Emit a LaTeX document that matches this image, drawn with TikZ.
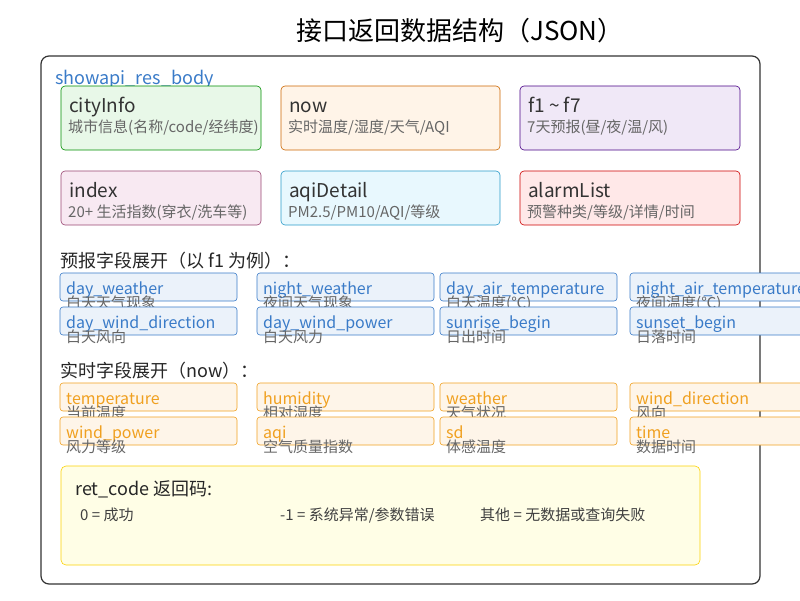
\documentclass[tikz,border=0pt]{standalone}
\usepackage{fontspec}
\setmainfont{Noto Sans CJK SC}
\definecolor{frame}{HTML}{333333}
\definecolor{sub}{HTML}{666666}
\definecolor{fblue}{HTML}{3A7BC8}
\definecolor{forange}{HTML}{F0A020}
\tikzset{
  card/.style={draw=#1!80!black, fill=#1!9, rounded corners=4pt, line width=0.6pt},
  fld/.style={draw=#1, fill=#1!10, rounded corners=3pt, line width=0.6pt},
  ttl/.style={anchor=base west, inner sep=0pt, font=\fontsize{19}{19}\selectfont, text=frame},
  dsc/.style={anchor=base west, inner sep=0pt, font=\fontsize{15}{15}\selectfont, text=sub},
  ftl/.style={anchor=base west, inner sep=0pt, font=\fontsize{16}{16}\selectfont, text=#1},
  fds/.style={anchor=base west, inner sep=0pt, font=\fontsize{15}{15}\selectfont, text=sub},
  sec/.style={anchor=base west, inner sep=0pt, font=\fontsize{18}{18}\selectfont, text=black!85}
}
\begin{document}
\begin{tikzpicture}[x=1pt,y=-1pt]
  \useasboundingbox (0,0) rectangle (800,600);
  \node[anchor=base, inner sep=0pt, font=\fontsize{26}{26}\selectfont] (title) at (460,40) {接口返回数据结构（JSON）};
  \draw[frame, line width=1.2pt, rounded corners=8pt] (41,56) rectangle (760,584);
  \node[anchor=base west, inner sep=0pt, text=fblue, font=\fontsize{18}{18}\selectfont] (body) at (55,84) {showapi\_res\_body};

% top-level cards
  \foreach \x/\y/\w/\col/\t/\d [count=\i] in {
      61/86/200/green!70!black/cityInfo/{城市信息(名称/code/经纬度)},
      281/86/219/orange/now/{实时温度/湿度/天气/AQI},
      520/86/220/violet!70!blue/{f1 \textasciitilde{} f7}/{7天预报(昼/夜/温/风)},
      61/171/200/magenta!70!black/index/{20+ 生活指数(穿衣/洗车等)},
      281/171/219/cyan/aqiDetail/{PM2.5/PM10/AQI/等级},
      520/171/220/red/alarmList/{预警种类/等级/详情/时间}} {
    \draw[card=\col] (\x,\y) rectangle ++(\w,\ifnum\i<4 64\else 54\fi);
    \node[ttl] (c\i) at (\x+8,\y+26) {\t};
    \node[dsc] (d\i) at (\x+7,\y+46) {\d};
  }

% forecast fields
  \node[sec] (fsec) at (60,267) {预报字段展开（以 f1 为例）：};
  \foreach \x/\y/\t/\d [count=\i] in {
      60/273/day\_weather/白天天气现象, 257/273/night\_weather/夜间天气现象,
      440/273/day\_air\_temperature/白天温度(℃), 630/273/night\_air\_temperature/夜间温度(℃),
      60/307/day\_wind\_direction/白天风向, 257/307/day\_wind\_power/白天风力,
      440/307/sunrise\_begin/日出时间, 630/307/sunset\_begin/日落时间} {
    \draw[fld=fblue] (\x,\y) rectangle ++(177,28);
    \node[ftl=fblue] (ff\i) at (\x+6,\y+21) {\t};
    \node[fds] (fd\i) at (\x+6,\y+35) {\d};
  }

% realtime fields
  \node[sec] (nsec) at (60,377) {实时字段展开（now）：};
  \foreach \x/\y/\t/\d [count=\i] in {
      60/383/temperature/当前温度, 257/383/humidity/相对湿度,
      440/383/weather/天气状况, 630/383/wind\_direction/风向,
      60/417/wind\_power/风力等级, 257/417/aqi/空气质量指数,
      440/417/sd/体感温度, 630/417/time/数据时间} {
    \draw[fld=forange] (\x,\y) rectangle ++(177,28);
    \node[ftl=forange] (nf\i) at (\x+6,\y+21) {\t};
    \node[fds] (nd\i) at (\x+6,\y+35) {\d};
  }

% return codes
  \draw[draw=yellow!70!orange, fill=yellow!10, rounded corners=5pt, line width=0.6pt] (61,466) rectangle (700,565);
  \node[sec] (ret) at (75,495) {ret\_code 返回码:};
  \node[dsc, text=black!75] (r0) at (80,520) {0 = 成功};
  \node[dsc, text=black!75] (r1) at (280,520) {-1 = 系统异常/参数错误};
  \node[dsc, text=black!75] (r2) at (480,520) {其他 = 无数据或查询失败};
\end{tikzpicture}
\end{document}
